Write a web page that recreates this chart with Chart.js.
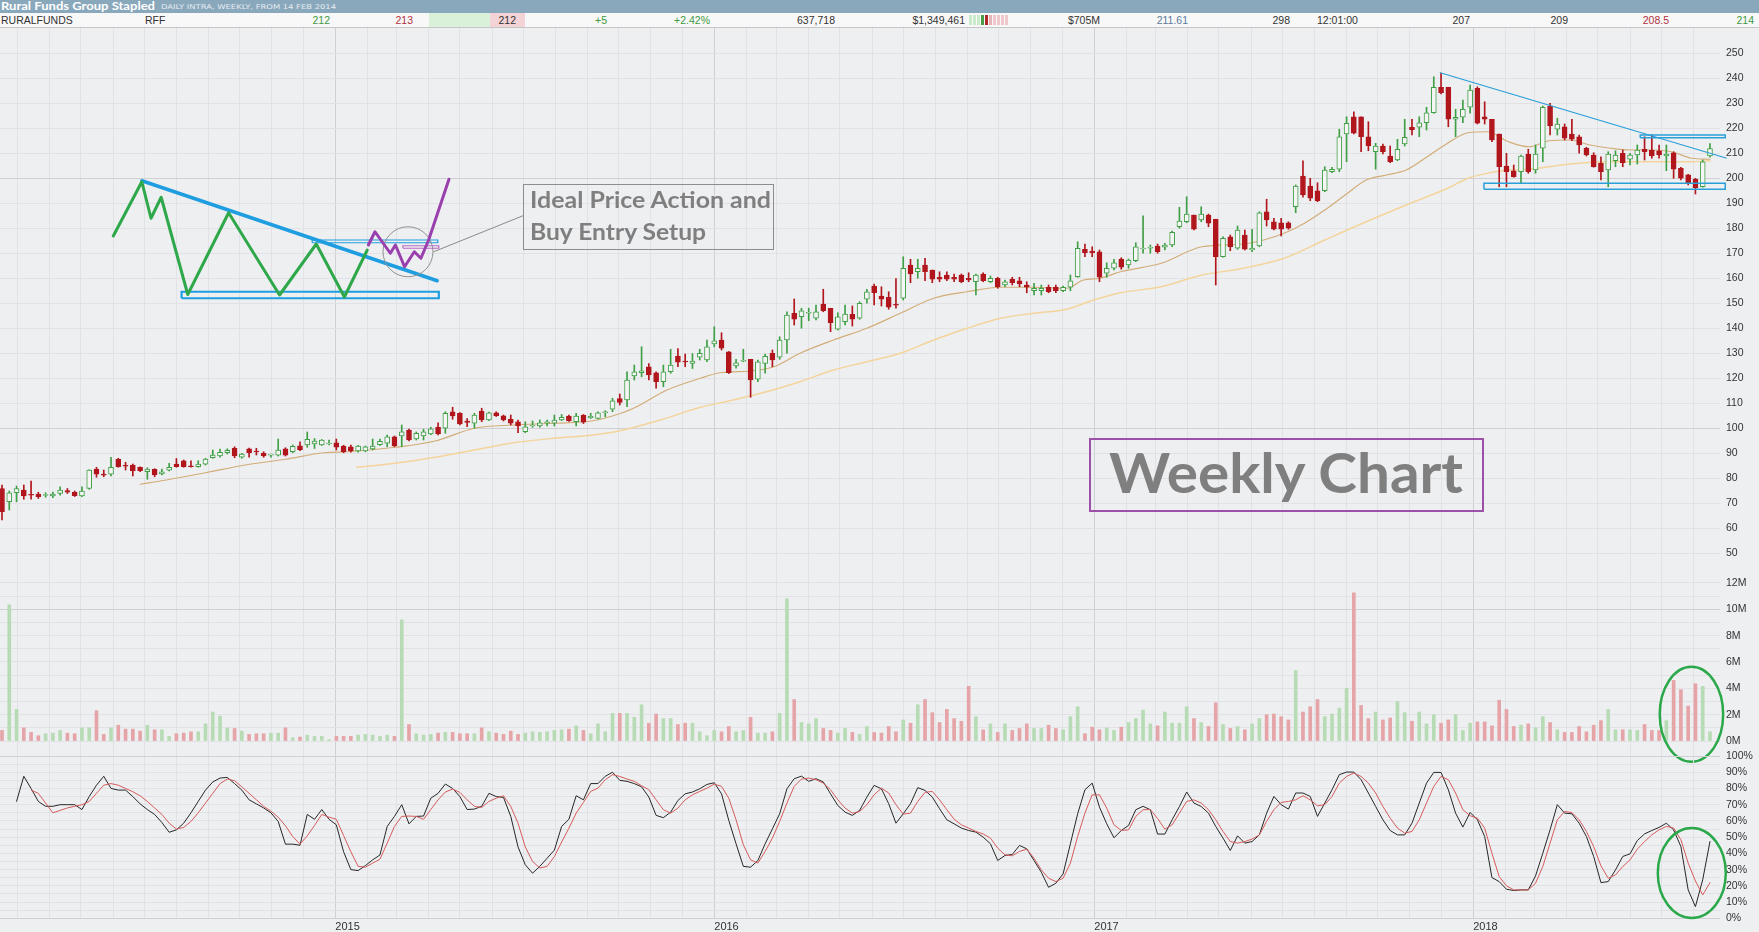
<!DOCTYPE html>
<html><head><meta charset="utf-8"><title>Rural Funds Group Stapled - Weekly</title>
<script src="https://cdn.jsdelivr.net/npm/chart.js@4.4.1/dist/chart.umd.min.js"></script>
<style>
html,body{margin:0;padding:0}
body{width:1759px;height:932px;overflow:hidden;background:#eeeff1;position:relative;font-family:"Liberation Sans",Arial,sans-serif}
canvas{position:absolute;left:0;display:block}
#hdr{position:absolute;left:0;top:0;width:1759px;height:13px;background:#8aa8bc}
#row{position:absolute;left:0;top:13px;width:1759px;height:14px;background:#f8f8f8;border-bottom:1px solid #c6c6c6}
.a{position:absolute;white-space:nowrap;line-height:1;transform-origin:0 0}
.rt{position:absolute;top:0;line-height:14px;font-size:10.5px;white-space:nowrap;color:#333}
.cell{position:absolute;top:0;height:14px}
.box{position:absolute;box-sizing:border-box}
.note{font-family:Lato,"Open Sans",sans-serif;font-weight:700;color:#7f7f7f}
</style></head><body>
<canvas id="cPrice" width="1759" height="543" style="top:28px;width:1759px;height:543px"></canvas>
<canvas id="cVol" width="1759" height="195" style="top:571px;width:1759px;height:195px"></canvas>
<canvas id="cSto" width="1759" height="186" style="top:746px;width:1759px;height:186px"></canvas>
<div id="hdr">
 <div class="a fit" data-w="154" style="left:1px;top:0.7px;font-family:Lato,sans-serif;font-weight:700;font-size:10.5px;color:#fff">Rural Funds Group Stapled</div>
 <div class="a fit" data-w="175" style="left:161px;top:3.5px;font-family:'DejaVu Sans',sans-serif;font-size:6.5px;color:#e6edf2">DAILY INTRA, WEEKLY, FROM 14 FEB 2014</div>
</div>
<div id="row"></div>
<div class="box" style="left:523px;top:184px;width:251px;height:66px;border:1px solid #8d8d8d"></div>
<div class="a note fit" data-w="241" style="left:530px;top:187.9px;font-size:23px">Ideal Price Action and</div>
<div class="a note fit" data-w="176" style="left:530px;top:220.3px;font-size:23px">Buy Entry Setup</div>
<div class="box" style="left:1089px;top:438px;width:395px;height:74px;border:2px solid #9c50a8"></div>
<div class="a note fit" data-w="354" style="left:1109px;top:444.5px;font-size:55px">Weekly Chart</div>
<script>
// ---------------- DATA (weekly candles from 14 Feb 2014) ----------------
const open = [76,70.7,74.3,75.4,73.5,73.8,73.2,73,74,75.2,
74.5,73,76,83.8,81.8,81.7,87.7,85.1,85.4,84.5,
82.7,83.7,81.8,83.3,85.8,87.1,85.1,84.7,85.7,88.3,
89,90.3,92.1,88.5,91.9,91,90.1,89.3,89.3,91.9,
90.7,93.1,93.4,93.8,93.4,93.8,94.3,93,92.7,91,
91,91.8,93.5,94.1,96.7,97,99.4,95.8,97,97.8,
100.5,100.1,106.7,106.1,103,102.1,107,103.4,106.3,105.1,
103.7,102.7,98.7,101,101,102.1,102.1,103.4,105,102.7,
105.3,104.3,104,106.3,107.7,112,111.4,121,122.3,124.7,
122.3,118.7,122.7,129,126.9,126,128.5,127.4,133.8,135.4,
130.7,125,126.9,127.7,119.7,126,130.1,128.5,135.4,146.1,
144.7,146.1,144.1,149.8,148.1,139.7,142.7,145.7,144.1,151.7,
157,153,152.5,149.6,152.1,165.4,162.7,165.4,163.4,160.5,
161.4,160.5,161.4,160.1,158.7,161.8,158.7,160.1,157.4,159.7,
159.1,157.4,155.1,155.1,156.5,156.5,155.1,156.5,160.7,171.7,
171,170.7,162.1,164.1,167.8,165.4,167.1,171.8,172.1,173,
172.5,173.4,180.7,182.7,185.4,183.4,185.4,183.7,168.7,176.7,
172.1,177.4,171.4,173,186.7,182.7,182.3,182.3,188.7,201,
197,195.1,195.1,202.7,203.7,217.8,224.7,224.7,216.7,210.7,
213,209,207.4,213.8,220.5,220.5,222.3,226.3,236.5,236.5,
223.7,224.5,228.5,236.1,224.7,223.7,217.8,205,203.1,202.7,
209.8,203.4,212.1,229,219.7,220.7,217.8,216.7,212.1,209.4,
206.1,203.4,207.1,210.1,207.7,209.4,211.7,211.4,211.1,209,
210.3,204.1,201.5,199.7,196.7,209];
const high = [77.4,75,77,77.4,79,74.5,74.3,74.6,76.7,76,
75,76.7,83.5,84.5,83.4,88.5,88.1,86.5,85.8,84.7,
84.3,83.9,83.8,86.1,88,87.4,87.1,87.1,88.1,91.4,
91.8,91.9,92.7,90.1,92.2,92.1,90.7,89.8,95.8,92.3,
93.4,94.7,98.6,96,95.6,95.4,95.8,93.3,93.4,93.3,
93,95.8,95.8,97.4,97,101.4,99.8,98.6,99.7,100.5,
102.3,106.7,108.5,106.4,104,106.1,108.1,106.6,106.7,105.4,
105.4,103.4,102.7,103,103.4,103.4,105.4,105.6,105.4,106.1,
105.6,106.1,106.7,107.1,112.1,113.8,122.7,125.4,132.7,126,
122.7,125.4,131.7,132,129.8,130,131.7,135.4,140.7,138.3,
130.8,127.7,131.7,127.7,127.4,129.8,131.4,136.7,146.7,151.8,
148.1,148.1,149.4,155.7,148.1,146.3,149.4,149,150.7,155.7,
157.8,156.7,154.7,160,168.7,167.7,167.7,168.1,163.4,162.7,
162.7,161.8,161.8,162.3,161.8,162.3,161,160.5,159.4,160.5,
160.5,158.7,158.1,157.4,157.4,157.4,157,161.4,174.7,173.8,
172.7,171.4,166.3,167.7,168.3,167.8,174.3,185.1,173.4,173.8,
174.1,179,188.5,192.7,185.4,188.7,185.8,183.7,176.7,177.4,
181,179.4,179.7,186.7,191.7,184.1,184.1,182.7,197.4,207.1,
200.1,198.3,204.7,204.5,219.7,224.7,226.7,224.7,222.7,214.1,
213.8,213,215.7,223.7,223.7,224.7,228.5,240.7,242.1,236.5,
227.7,231.4,237.4,236.7,230.7,223.7,217.8,210.1,205.4,209.4,
211.7,213.4,229,230.1,224.1,221.8,223.7,217.4,212.5,210.3,
208.7,210.7,211.1,211.4,210.1,213.4,216.7,217.4,213.4,213.4,
210.7,204.5,201.7,200.1,207.4,214];
const low = [63.4,67.4,70.7,71.7,71.7,72,72.5,72.3,73.3,74,
72.8,72.7,75.7,80.5,80.7,81,84.5,83.4,81,82.7,
79.7,80.7,81.4,83,84.5,84.5,84.5,84.5,85.4,88.1,
88.5,89.8,88.3,88.1,88.5,89.4,88.5,88.5,89,89,
90.3,91.1,92.5,92,93.2,93.4,91.4,90.3,90.5,90.5,
90.7,91.4,93.2,92.7,92.7,92.7,95,95.4,95.4,97.5,
97.4,98.1,103.7,101.4,100.7,100.1,102.7,103.1,104.8,103,
101.4,98.3,98.3,100.5,100.5,101,101,103.1,102.8,101,
102,104,103.8,104.7,106.7,109.4,108.7,119.4,120.7,119.4,
116.1,116.7,122.1,124.7,124.7,124,127.4,126.7,132.7,131.4,
122,124.1,126.7,112.5,118.7,122.1,124.7,127.7,130.1,141.4,
140.1,143.1,143.4,146.7,138.7,139.4,141.4,141,143.7,150.1,
149.4,149,147.7,148.1,151.4,158.3,160.1,159.1,158.3,158.7,
159.1,158.7,158.3,158.7,153.4,158.7,158.3,156.1,156.7,157.4,
156.7,154.3,153.4,153.4,154.3,154.3,154.7,155.1,160.5,168.7,
168.7,158.7,160.5,163.4,163.7,164.1,166.7,170.1,170.1,170.1,
171.4,172.7,180.1,182.3,179.4,182.7,180.7,157.4,168.5,171.1,
171.7,171.4,170.7,172.7,181,179.4,177,179.7,186.3,192.5,
191.1,190.7,194.7,202.3,202.7,206.7,217.8,210.7,211.1,203.7,
209.8,206.3,207.1,213,217.4,216.7,219.4,226.1,233.8,220.7,
216.7,222.3,226.1,221.8,221.8,214.7,196.7,196.7,200.5,198.3,
202.1,202.1,206.7,217.4,217.4,215.4,215.1,210.1,209,204.5,
199.4,196.7,204.7,204.7,205.4,205.8,207.4,208.1,208.1,203.1,
200.1,199.4,197.4,193.8,196.5,208.5];
const close = [66.7,74.3,76,73,73.3,72.7,73.6,73.8,75.4,74.5,
73.1,75,83.4,81.7,81.3,84.5,84.7,84.9,83,83.1,
83.8,81.4,82.7,84.5,84.7,84.7,84.7,85.8,87.8,89.4,
90.5,91.3,89,89.8,90.3,90.6,89,89.8,91.4,89.3,
92.9,91.4,95.7,95,95.4,93.9,92.5,90.7,91,93,
92.7,93,94.9,96.7,93,98.7,95.4,98.1,98.7,99.9,
97.8,106.1,105,101.8,102.4,105.4,103.4,106.3,105.1,103.4,
102.1,101,100.7,101.4,102.3,102.7,103.4,104.5,103,105,
102.5,104.9,106.3,106.5,111.1,110.4,119.4,122.7,123.1,121.4,
118.7,122.7,125.4,126.5,126.6,127,130.1,132.7,135.1,132.1,
122.3,126.3,127.1,119.4,126.7,128.9,127.4,135.4,145.4,143.7,
147.1,146.5,146.7,147.1,142.3,144.7,145.8,143.7,150.1,154.7,
154.3,151.7,148.5,149.3,164.1,161.8,164.1,162.7,159.7,159.7,
159.7,159.7,158.7,159.4,161.4,159.1,160.1,156.7,158.7,158.3,
157.8,156.5,156.1,156.1,154.7,155.1,156.5,159.1,172.1,170.3,
170.3,160.5,164.1,166.3,164.5,167.4,172.7,172.1,172.5,170.7,
173.4,178.5,183,185.8,179.7,185.8,182.1,168.7,176.1,172.7,
179.4,171.7,172.1,186.3,183.4,179.7,179.7,180.1,197,193.4,
192.1,191.1,203.4,203.7,216.7,222.1,218.1,216.7,213,213,
210.7,206.7,211.7,216.5,219.4,222.3,226.3,236.5,234.3,223.7,
224.5,227.7,235.4,222.1,223.7,215.4,204.7,202.7,200.7,209,
202.7,209.8,228.5,221,221.8,216.1,215.7,213.4,209.4,204.7,
202.7,209.8,209.4,206.3,209.4,211.4,210.7,209,209.4,209.8,
203.7,200.1,197.9,196.3,206.7,212];
// weekly volume, millions of units
const volume = [0.8,10.35,2.4,1.0,0.65,0.4,0.55,0.6,0.8,0.6,
0.55,1.0,1.0,2.3,0.5,1.0,1.2,0.9,0.9,0.75,
1.2,0.85,0.85,0.35,0.55,0.6,0.7,0.7,1.3,2.2,
1.9,1.0,0.95,0.75,0.5,0.55,0.55,0.6,0.6,1.0,
0.25,0.3,0.45,0.35,0.35,0.1,0.35,0.35,0.35,0.45,
0.5,0.45,0.35,0.45,0.35,9.2,1.25,0.55,0.45,0.5,
0.6,0.65,0.65,0.55,0.55,0.55,1.0,0.7,0.6,0.5,
0.75,0.5,0.6,0.7,0.65,0.7,0.8,0.85,0.9,1.15,
0.8,0.55,1.3,0.7,2.1,2.1,2.1,1.8,2.75,1.35,
2.05,1.7,1.7,1.25,1.35,1.35,0.7,0.4,0.8,0.7,
1.1,0.7,0.8,1.8,0.6,0.6,0.7,2.1,10.8,3.15,
1.4,1.3,1.7,0.95,0.8,0.6,0.95,0.65,0.5,1.1,
0.65,0.6,1.1,0.7,1.6,1.35,2.75,3.15,2.15,1.4,
2.4,1.7,1.5,4.15,1.85,0.85,1.3,0.65,1.3,0.8,
0.95,1.3,0.95,0.95,1.2,0.95,0.85,1.85,2.6,0.55,
1.05,0.85,1.0,0.8,1.05,1.4,1.7,2.35,1.3,1.15,
2.2,1.35,1.35,2.6,1.7,1.4,1.1,2.9,1.25,0.95,
1.1,0.85,1.3,1.7,2.0,2.05,1.85,1.6,5.35,2.2,
2.6,3.15,1.85,2.05,2.5,4.0,11.25,2.7,1.7,2.2,
1.6,1.75,3.0,2.15,1.5,2.2,1.3,2.0,1.35,1.6,
2.0,0.8,1.35,1.45,1.45,1.15,3.1,2.4,1.1,1.2,
1.3,1.0,1.85,1.4,0.85,0.65,0.65,1.1,0.7,1.2,
1.55,2.4,0.85,0.85,0.85,0.8,1.25,0.8,0.8,1.55,
4.6,3.9,2.65,4.35,4.15,0.7];
// stochastic %K (black) and %D (red)
const stochK = [null,null,72,87.5,80,72,69,69,70,70,
70,67,75,82,87.5,80,79,79,75,70.5,
67,64,59,53,54.5,58.6,65,72,79,84,
86.4,86.8,83,79,73,70.5,68,65,59.7,45.7,
45.7,45,64,61,67,61,57.6,41,30,29.4,
32.5,36,39,56.6,62.8,70,58.2,62.8,63,74,
77,82.7,80,75,67,67.3,69,77,75,74.5,
62.8,44,33,27.8,32,37,42,56.6,61,75.5,
73,83,83,87.5,90,85,84.4,83,81,74.7,
63.4,62,65.4,72.6,76.7,77.8,79.8,82.5,83.5,76.7,
60.3,45.9,32,31.5,35.6,45.9,55.1,64.4,79.8,86,
87.6,84.4,86,84,76.7,69.5,65.4,63.4,66.5,74.7,
81.9,79.8,70.6,58.6,64.4,70.6,80.5,78.8,74.7,67.5,
60.7,58.2,55.6,54.1,53.1,50,45.9,35.6,38.7,39.3,
44.9,42.8,35.6,28.4,19.1,21.6,27.4,45.9,64.4,79.2,
83.3,68.5,58.2,49.6,54.1,57.2,66.9,69,66.9,51.9,
51.9,60.7,68.9,77.8,71,68.9,64.8,56.6,49.4,41.8,
50.8,46.3,47.3,51.4,64.8,75.1,70,67.3,77.2,77.2,
75.1,62.8,71,79.2,88.5,90.1,90.1,85.4,77.2,68.9,
60.7,54.1,51.4,51.4,58.6,71,83.3,89.9,89.9,79.2,
64.8,56.2,65.2,60.7,50.4,25.1,22.6,17.9,17.1,17.5,
17.5,26.1,40.1,54.5,70,64.8,64.4,58.6,50.4,38.1,
22,22.6,29.8,38.1,39.7,47.9,52,54.1,56,58.6,
54.5,44.2,17.5,7.2,23.7,47.3];
const stochD = [null,null,null,null,79,77,71,65,66.5,68,
69,70,72,77,82,83,82,80,78,75.5,
72,68,64,58.6,55,56,59.7,65,71,77,
83,85.8,84.8,81,77,73,69,66,62.3,57,
50.4,45.7,50.8,57.2,64,62.3,61,51,41,32,
31.5,34,36.4,46.3,56.6,62.8,63,62.8,61,67,
73,77.8,79.6,77.6,73,69,68.3,72,74,75.5,
69,58.6,44,35,31,32,38,47,55.5,64.8,
71.4,78.2,80.2,85.4,88.5,87.4,85.8,84.4,81.7,79.2,
73,66.9,64.8,67.9,73,76.1,78.2,80.2,82.7,81.3,
74,60.7,45.3,36,34,41.2,49.4,59.7,71,81.3,
85.8,86.4,85.4,83.3,79.2,73,67.9,64.8,65.8,70,
76.1,80.2,77.2,70,64.2,64.8,72,77.6,78.2,73,
66.9,61.1,57.6,55.6,53.5,52,49.4,43.2,39.1,38.5,
41.2,42.6,37,29.8,24.7,22.6,24.7,34,50.4,64.8,
76.1,76.1,67.9,57.6,54.1,54.5,62.8,66.9,67,61.5,
54.9,57.6,64.8,72,73,71,66.9,60.7,53.5,47.3,
46.3,47.3,48.8,51.4,59.7,66.9,71.4,72,73,75.5,
73,69.3,70,75.1,83.3,87.4,89.5,87.4,83.3,77.2,
68.9,61.7,55.6,52.5,53.5,60.7,71,81.3,87.4,85.4,
77.2,66.9,63.2,61.7,55.6,40.1,25.7,20,17.5,17.5,
17.5,21.6,31.9,46.3,60.7,65.8,65.2,60.7,53.5,44.2,
32.3,24.7,26.7,31.9,36,42.6,47.3,51.4,54.5,56.6,
55.6,48.4,34,23,14.4,22];
// moving averages (week index, price)
const maFastX = [19,22.6,28,33.5,39,44.3,47.6,54.1,59.6,65,70.4,75.9,81.3,84,86.9,91.5,96.1,98.8,103,106.2,109.8,114.4,119,123.6,128.2,132.8,137.4,142,146.5,148.8,151.1,153.9,159.5,165.1,170.8,173.6,176.4,179.2,182,184.8,187.7,190.5,193.2,196.1,198.9,201.7,204.4,207.3,210.1,212.9,215.7,218.5,221.3,224.1,226.9,229.7,232.5,235];
const maFastY = [77.7,79.4,82.3,85.4,87.7,90.3,90.7,92.5,95,100.1,101.4,102.1,103.1,105,108.1,115.4,120.1,122.3,123,124.7,130.1,135.4,140.1,146.1,152.1,154.7,156.5,156.5,156.1,159.4,160.1,162.7,166.1,172.7,173.8,175.4,178.1,182.1,187.4,193.4,199.4,201.4,203.4,208.7,214.1,218.3,218.7,214.7,212.7,215.1,215.4,213.4,212.1,211.4,211.4,210.7,208.1,207.7];
const maSlowX = [48.8,54.1,59.6,65,70.4,75.9,81.3,85,90.6,96.1,100.6,105.2,109.8,114.4,119,123.6,128.2,132.8,137.4,142,146.5,150,153.9,159.5,165.1,170.8,176.4,182,187.7,193.2,198.9,201.7,204.4,207.3,210.1,215.7,221.3,226.9,232.5,235];
const maSlowY = [84.5,86.1,88.5,91.4,94.3,96.1,97.4,99.1,103.4,108.5,111.4,114.7,118.7,123.4,126.7,130.1,135.4,140.1,144.1,146.1,147.7,151.2,154.3,156.7,161.4,164.1,168.1,175.4,182.7,189.4,196.1,200.1,202.1,203.4,203.7,205.8,206.7,206.7,206.7,207.1];
// tick labels
const priceTicks = [50,60,70,80,90,100,110,120,130,140,150,160,170,180,190,200,210,220,230,240,250];
const volTicks = [0,1,2,3,4,5,6,7,8,9,10,11,12];
const stochTicks = [0,5,10,15,20,25,30,35,40,45,50,55,60,65,70,75,80,85,90,95,100];
const yearLabels = ['2015','2016','2017','2018'];
// hand-drawn annotations (week index, price)
const trendMainX = [197.9,237.2], trendMainY = [242.3,208.2];
const supportZone = [203.9,237.1,195.7,198.1];
const resistZone = [225.4,237.1,216.3,217.4];
const insetGreenX = [15.31,19.24,20.5,21.9,25.56,31.18,38.19,43.24,47.11,50.26];
const insetGreenY = [177,198.7,184.1,192.5,153.6,186.3,153.4,173.8,152.6,171.4];
const insetTrendX = [19.24,59.88], insetTrendY = [199.1,159.1];
const insetSupport = [24.71,60.1,152.1,154.7];
const insetResist = [42.68,59.96,174.3,175.4];
const insetPurpleX = [50.41,51.32,53.43,54.13,55.39,56.73,57.64,58.7,61.5];
const insetPurpleY = [173.4,178.7,170.1,173.4,164.7,170.7,168.1,175.4,199.7];
const insetPurpleRect = [55.17,60.1,172.1,173.1];
const insetCircle = {x:55.86,y:170.7};
const leaderX = [59.4,71.68], leaderY = [170.7,185.1];
const volEllipse = {x:232.45,y:2.03};
const stochEllipse = {x:232.5,y:27.9};

// ---------------- header row ----------------
const rowEl = document.getElementById('row');
[[429,61,'#d9f0d9'],[490,35,'#f3d3d5']].forEach(c=>{const d=document.createElement('div');d.className='cell';d.style.left=c[0]+'px';d.style.width=c[1]+'px';d.style.background=c[2];rowEl.appendChild(d);});
const stripes=['#cbe9cb','#cbe9cb','#cbe9cb','#4a9e4a','#b02828','#e9b4b8','#f0c8cb','#f0c8cb','#f0c8cb','#f0c8cb'];
stripes.forEach((c,k)=>{const d=document.createElement('div');d.style.cssText='position:absolute;top:2px;height:10px;width:3px;left:'+(969+k*4)+'px;background:'+c;rowEl.appendChild(d);});
const rowLeft=[['RURALFUNDS',1,'#333'],['RFF',145,'#333'],['12:01:00',1317,'#333']];
rowLeft.forEach(t=>{const s=document.createElement('span');s.className='rt';s.textContent=t[0];s.style.left=t[1]+'px';s.style.color=t[2];rowEl.appendChild(s);});
const rowRight=[['212',330,'#3d9a3d'],['213',413,'#b03040'],['212',516,'#333'],['+5',607,'#3d9a3d'],['+2.42%',710,'#3d9a3d'],['637,718',835,'#333'],['$1,349,461',965,'#333'],['$705M',1100,'#333'],['211.61',1188,'#5a7a99'],['298',1290,'#333'],['207',1470,'#333'],['209',1568,'#333'],['208.5',1669,'#b03040'],['214',1754,'#3d9a3d']];
rowRight.forEach(t=>{const s=document.createElement('span');s.className='rt';s.textContent=t[0];s.style.right=(1759-t[1])+'px';s.style.color=t[2];rowEl.appendChild(s);});

function fitAll(){document.querySelectorAll('.fit').forEach(el=>{el.style.transform='none';const w=el.getBoundingClientRect().width;if(w>0)el.style.transform='scaleX('+(+el.dataset.w/w)+')';});}
fitAll(); if(document.fonts&&document.fonts.ready) document.fonts.ready.then(fitAll);

// ---------------- chart helpers ----------------
const FONT={family:'"Liberation Sans", Arial, sans-serif',size:10.5};
const GRID_FAINT='#e2e2e6', GRID_MAJOR='#cfcfd4';
const UP='#3f9f45', DOWN='#b1161c', VUP='#b7dcb5', VDN='#e5a4a8';
const X_MIN=-0.275, X_MAX=236.38;
const START=Date.UTC(2014,1,14), WEEK=7*86400000;
const monthTicks=[], yearTicks=[];
for(let y=2014;y<=2018;y++)for(let m=0;m<12;m++){const v=(Date.UTC(y,m,1)-START)/WEEK;if(v>X_MIN&&v<X_MAX){monthTicks.push(v);if(m===0)yearTicks.push(v);}}
const idx=open.map((_,i)=>i);
const up=i=>close[i]>=open[i];

function xScale(labels){
  return {type:'linear',min:X_MIN,max:X_MAX,offset:false,
    grid:{offset:false,drawTicks:false,lineWidth:1,color:c=>(c.tick&&yearTicks.includes(c.tick.value))?GRID_MAJOR:GRID_FAINT},
    border:{display:false},
    afterBuildTicks:s=>{s.ticks=monthTicks.map(v=>({value:v}));},
    ticks:{display:labels,autoSkip:false,maxRotation:0,minRotation:0,align:'start',padding:2,color:'#333',font:{family:FONT.family,size:11},
      callback:v=>{const k=yearTicks.indexOf(v);return k>=0?yearLabels[k]:'';}},
    afterFit:s=>{s.height=labels?13.7:0;s.paddingLeft=0;s.paddingRight=0;}
  };
}
function yScale(min,max,ticks,majors,fmt){
  return {position:'right',min,max,beginAtZero:false,
    grid:{drawTicks:false,lineWidth:1,color:c=>(c.tick&&majors.includes(c.tick.value))?GRID_MAJOR:GRID_FAINT},
    border:{display:false},
    afterBuildTicks:s=>{s.ticks=ticks.map(v=>({value:v}));},
    ticks:{padding:6,color:'#333',font:FONT,autoSkip:false,callback:fmt},
    afterFit:s=>{s.width=39;s.paddingTop=0;s.paddingBottom=0;}
  };
}
function lineDs(xs,ys,color,width,order,extra){
  return Object.assign({type:'line',data:xs.map((x,k)=>({x:x,y:ys[k]})),borderColor:color,borderWidth:width,pointRadius:0,fill:false,tension:0,clip:false,order:order,borderJoinStyle:'round',borderCapStyle:'round'},extra||{});
}
function rectDs(r,color,width,order){
  return lineDs([r[0],r[1],r[1],r[0],r[0]],[r[2],r[2],r[3],r[3],r[2]],color,width,order,{borderJoinStyle:'miter',borderCapStyle:'butt'});
}
const ellipsePlugin={id:'ellipses',afterDatasetsDraw(chart,args,opts){
  const items=(opts&&opts.items)||[];const ctx=chart.ctx;
  items.forEach(e=>{const cx=chart.scales.x.getPixelForValue(e.x),cy=chart.scales.y.getPixelForValue(e.y);
    ctx.save();ctx.beginPath();ctx.ellipse(cx,cy,e.rx,e.ry,0,0,Math.PI*2);ctx.strokeStyle=e.color;ctx.lineWidth=e.width;ctx.stroke();ctx.restore();});
}};
function opts(scales,padding,ellipses){
  return {responsive:false,animation:false,events:[],
    layout:{padding:padding,autoPadding:false},
    plugins:{legend:{display:false},tooltip:{enabled:false},ellipses:{items:ellipses||[]}},
    scales:scales};
}

// ---------------- price panel ----------------
new Chart(document.getElementById('cPrice'),{
  type:'bar',
  data:{datasets:[
    lineDs(insetPurpleX,insetPurpleY,'#9a3fae',3,0),
    rectDs(insetPurpleRect,'#b86ac6',1.2,0),
    lineDs([insetCircle.x],[insetCircle.y],'#8a8a8a',1,0,{showLine:false,pointRadius:25,pointBackgroundColor:'rgba(0,0,0,0)',pointBorderColor:'#8f8f8f',pointBorderWidth:1}),
    lineDs(leaderX,leaderY,'#8a8a8a',1,0),
    lineDs(insetGreenX,insetGreenY,'#2ea84a',3,1),
    lineDs(insetTrendX,insetTrendY,'#1e9ee0',3.5,2),
    rectDs(insetSupport,'#1e9ee0',2.2,2),
    rectDs(insetResist,'#1e9ee0',1.2,2),
    lineDs(trendMainX,trendMainY,'#2a9fd8',1.3,2),
    rectDs(supportZone,'#2a9fd8',1.5,2),
    rectDs(resistZone,'#2a9fd8',1.5,2),
    {type:'bar',data:idx.map(i=>({x:i,y:[open[i],close[i]]})),barThickness:5,grouped:false,
      backgroundColor:c=>up(c.dataIndex)?'#f5f5f6':DOWN,borderColor:c=>up(c.dataIndex)?UP:DOWN,borderWidth:1,borderSkipped:false,minBarLength:1,order:4},
    {type:'bar',data:idx.map(i=>({x:i,y:[low[i],high[i]]})),barThickness:1,grouped:false,
      backgroundColor:c=>up(c.dataIndex)?UP:DOWN,borderWidth:0,order:5},
    lineDs(maFastX,maFastY,'#d3ad78',1.2,6,{cubicInterpolationMode:'monotone'}),
    lineDs(maSlowX,maSlowY,'#f4d49a',1.4,7,{cubicInterpolationMode:'monotone'})
  ]},
  options:opts({x:xScale(false),y:yScale(43,260.2,priceTicks,[100,200],v=>String(v))},{top:0,bottom:0,left:0,right:0})
});

// ---------------- volume panel ----------------
new Chart(document.getElementById('cVol'),{
  type:'bar',
  data:{datasets:[
    {type:'bar',data:idx.map(i=>({x:i,y:volume[i]})),barThickness:3,grouped:false,borderWidth:0,
      backgroundColor:c=>up(c.dataIndex)?VUP:VDN}
  ]},
  options:opts({x:xScale(false),y:yScale(-1.139,12.911,volTicks,[10],v=>(v%2===0?v+'M':''))},{top:0,bottom:10,left:0,right:0},
    [{x:volEllipse.x,y:volEllipse.y,rx:31.7,ry:47.5,color:'#2aa84a',width:2.5}]),
  plugins:[ellipsePlugin]
});

// ---------------- stochastic panel ----------------
new Chart(document.getElementById('cSto'),{
  type:'line',
  data:{datasets:[
    lineDs(idx,stochD,'#d65a5a',1,0,{clip:0}),
    lineDs(idx,stochK,'#262626',1,1,{clip:0})
  ]},
  options:opts({x:xScale(true),y:yScale(0,100,stochTicks,[0,100],v=>(v%10===0?v+'%':''))},{top:10,bottom:0,left:0,right:0},
    [{x:stochEllipse.x,y:stochEllipse.y,rx:34,ry:45,color:'#2aa84a',width:2.5}]),
  plugins:[ellipsePlugin]
});
</script>
</body></html>
